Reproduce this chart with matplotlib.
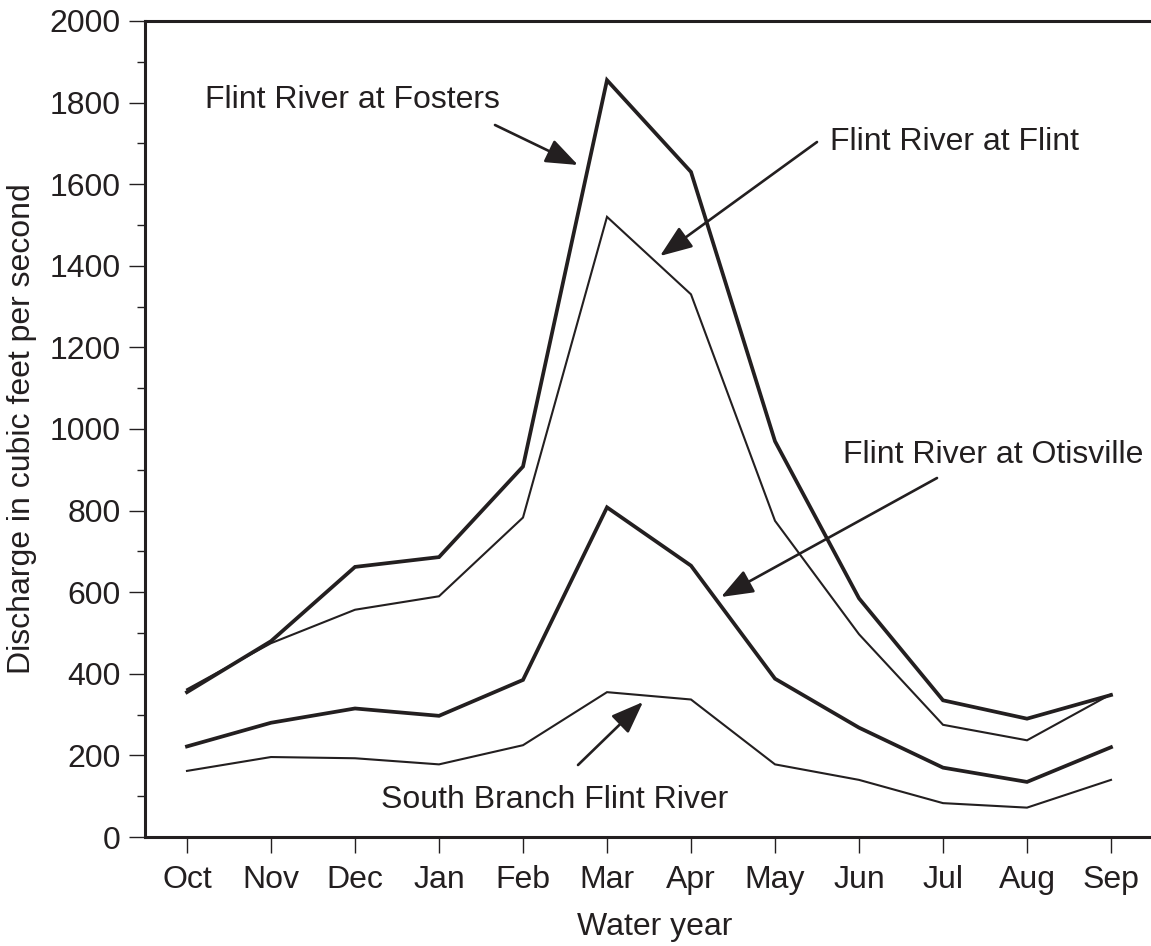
import matplotlib
matplotlib.use("Agg")
import matplotlib.pyplot as plt
from matplotlib.ticker import MultipleLocator

months = ["Oct", "Nov", "Dec", "Jan", "Feb", "Mar", "Apr", "May", "Jun", "Jul", "Aug", "Sep"]
fosters = [355, 480, 662, 686, 908, 1855, 1630, 970, 585, 335, 290, 348]
flint = [362, 475, 557, 590, 783, 1520, 1330, 775, 497, 275, 237, 350]
otisville = [222, 280, 315, 297, 385, 808, 665, 388, 268, 170, 135, 220]
south_branch = [162, 196, 193, 178, 225, 355, 337, 178, 140, 83, 72, 140]

C = "#231f20"
FS = 23
plt.rcParams['font.family'] = ['Liberation Sans', 'DejaVu Sans']

W, H = 1151, 946
fig = plt.figure(figsize=(W / 100, H / 100), dpi=100)
ax = fig.add_axes([145 / W, (H - 837) / H, (1165 - 145) / W, (837 - 21) / H])

x = list(range(len(months)))
ax.plot(x, fosters, color=C, lw=2.7, solid_joinstyle='miter')
ax.plot(x, flint, color=C, lw=1.5, solid_joinstyle='miter')
ax.plot(x, otisville, color=C, lw=2.7, solid_joinstyle='miter')
ax.plot(x, south_branch, color=C, lw=1.5, solid_joinstyle='miter')

ax.set_xlim(-0.5, (1165 - 187) / 84)
ax.set_ylim(0, 2000)
ax.set_xticks(x)
ax.set_xticklabels(months)
ax.yaxis.set_major_locator(MultipleLocator(200))
ax.yaxis.set_minor_locator(MultipleLocator(100))

for s in ["left", "bottom", "top"]:
    ax.spines[s].set_linewidth(2.2)
    ax.spines[s].set_color(C)
ax.spines["right"].set_visible(False)

ax.tick_params(axis='both', which='major', length=11.5, width=1.0, color=C,
               labelsize=FS, labelcolor=C, direction='out')
ax.tick_params(axis='y', which='major', pad=6)
ax.tick_params(axis='x', which='major', pad=9)
ax.tick_params(axis='y', which='minor', length=6, width=1.0, color=C, direction='out')

ax.set_xlabel("Water year", fontsize=FS, color=C, labelpad=12)
ax.set_ylabel("Discharge in cubic feet per second", fontsize=FS, color=C, labelpad=9)


def px(p):
    return (p - 187) / 84


def py(p):
    return (837 - p) / 0.408


arrow = dict(arrowstyle='-|>,head_length=1.1,head_width=0.42', color=C, lw=1.9,
             shrinkA=0, shrinkB=0, mutation_scale=18)

ax.text(px(205), py(100), "Flint River at Fosters", fontsize=FS, color=C, ha='left', va='center')
ax.annotate("", xy=(px(578), py(165)), xytext=(px(495), py(125)), arrowprops=arrow)

ax.text(px(830), py(142), "Flint River at Flint", fontsize=FS, color=C, ha='left', va='center')
ax.annotate("", xy=(px(660), py(256)), xytext=(px(817), py(142)), arrowprops=arrow)

ax.text(px(843), py(455), "Flint River at Otisville", fontsize=FS, color=C, ha='left', va='center')
ax.annotate("", xy=(px(721), py(597)), xytext=(px(937), py(478)), arrowprops=arrow)

ax.text(px(381), py(800), "South Branch Flint River", fontsize=FS, color=C, ha='left', va='center')
ax.annotate("", xy=(px(643), py(702)), xytext=(px(578), py(765)), arrowprops=arrow)

fig.savefig("out.png", dpi=100)
